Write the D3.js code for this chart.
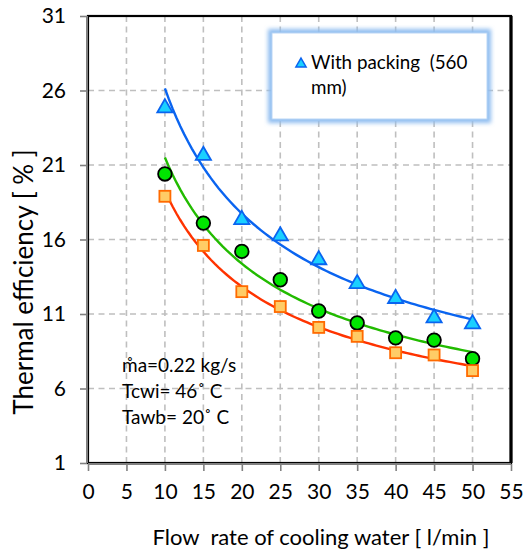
<!DOCTYPE html>
<html>
<head>
<meta charset="utf-8">
<script src="https://cdn.jsdelivr.net/npm/d3@7"></script>
<style>
  html, body { margin: 0; padding: 0; background: #fff; }
  svg { display: block; font-family: Lato, "Open Sans", sans-serif; }
  svg text { white-space: pre; }
</style>
</head>
<body>
<svg id="chart" width="529" height="554"></svg>
<script>
// Flow rate of cooling water [l/min]
const flowRates = [10, 15, 20, 25, 30, 35, 40, 45, 50];
// Thermal efficiency [%] for each configuration
const withPacking560 = [24.9, 21.7, 17.4, 16.3, 14.7, 13.1, 12.1, 10.8, 10.4];
const seriesCircle   = [20.4, 17.1, 15.2, 13.3, 11.2, 10.4, 9.4, 9.25, 8.0];
const seriesSquare   = [18.9, 15.6, 12.5, 11.5, 10.1, 9.5, 8.4, 8.25, 7.2];

const xTicks = [0, 5, 10, 15, 20, 25, 30, 35, 40, 45, 50, 55];
const yTicks = [1, 6, 11, 16, 21, 26, 31];

const conditionLines = ["m\u030Aa=0.22 kg/s", "Tcwi= 46\u02DA C", "Tawb= 20\u02DA C"];
const legendLines = ["With packing  (560", "mm)"];

const svg = d3.select("#chart");
const plotL = 88, plotR = 511, plotT = 16, plotB = 463;

const x = d3.scaleLinear().domain([0, 55]).range([plotL, plotR]);
const y = d3.scaleLinear().domain([1, 31]).range([plotB, plotT]);

// Gridlines (dashed)
const grid = svg.append("g");
grid.selectAll("line.v").data(xTicks.filter(t => t > 0 && t < 55)).join("line")
  .attr("class", "v")
  .attr("x1", d => x(d)).attr("x2", d => x(d))
  .attr("y1", plotT).attr("y2", plotB)
  .attr("stroke", "#bfbfbf").attr("stroke-width", 1.6).attr("stroke-dasharray", "6,4.5");
grid.selectAll("line.h").data(yTicks.filter(t => t > 1 && t < 31)).join("line")
  .attr("class", "h")
  .attr("x1", plotL).attr("x2", plotR)
  .attr("y1", d => y(d)).attr("y2", d => y(d))
  .attr("stroke", "#bfbfbf").attr("stroke-width", 1.6).attr("stroke-dasharray", "6,4.5");

// Power-law trendlines (least squares in log-log space)
function powerFit(xs, ys) {
  const lx = xs.map(Math.log), ly = ys.map(Math.log);
  const mx = d3.mean(lx), my = d3.mean(ly);
  const b = d3.sum(lx, (v, i) => (v - mx) * (ly[i] - my)) / d3.sum(lx, v => (v - mx) ** 2);
  const a = Math.exp(my - b * mx);
  return t => a * Math.pow(t, b);
}

const curveXs = d3.range(10, 50.01, 0.5);
const line = d3.line().x(d => x(d[0])).y(d => y(d[1]));

const series = [
  { values: seriesSquare, color: "#ff3300" },
  { values: seriesCircle, color: "#22bb00" },
  { values: withPacking560, color: "#0a64f0" }
];

series.forEach(s => {
  const f = powerFit(flowRates, s.values);
  svg.append("path")
    .attr("d", line(curveXs.map(t => [t, f(t)])))
    .attr("fill", "none").attr("stroke", s.color).attr("stroke-width", 2.4);
});

// Markers
const tri = d3.symbol().type(d3.symbolTriangle).size(100);
svg.append("g").selectAll("path").data(withPacking560).join("path")
  .attr("d", tri)
  .attr("transform", (d, i) => `translate(${x(flowRates[i])},${y(d) + 1})`)
  .attr("fill", "#1ad0ff").attr("stroke", "#0a64f0").attr("stroke-width", 1.8);

svg.append("g").selectAll("circle").data(seriesCircle).join("circle")
  .attr("cx", (d, i) => x(flowRates[i])).attr("cy", d => y(d))
  .attr("r", 6.8)
  .attr("fill", "#00e600").attr("stroke", "#000").attr("stroke-width", 1.8);

svg.append("g").selectAll("rect").data(seriesSquare).join("rect")
  .attr("x", (d, i) => x(flowRates[i]) - 5.5).attr("y", d => y(d) - 5.5)
  .attr("width", 11).attr("height", 11)
  .attr("fill", "#ffcc66").attr("stroke", "#ff6a00").attr("stroke-width", 1.8);

// Plot frame
svg.append("rect")
  .attr("x", plotL).attr("y", plotT).attr("width", plotR - plotL).attr("height", plotB - plotT)
  .attr("fill", "none").attr("stroke", "#000").attr("stroke-width", 2.2);
svg.append("line").attr("x1", plotR).attr("x2", plotR).attr("y1", plotT).attr("y2", plotB)
  .attr("stroke", "#000").attr("stroke-width", 3.2);

// Axes
const xAxis = svg.append("g").attr("transform", `translate(0,${plotB + 1})`)
  .call(d3.axisBottom(x).tickValues(xTicks).tickSize(7).tickPadding(13));
const yAxis = svg.append("g").attr("transform", `translate(${plotL - 1},0)`)
  .call(d3.axisLeft(y).tickValues(yTicks).tickSize(7).tickPadding(14));
[xAxis, yAxis].forEach(g => {
  g.select(".domain").attr("stroke", "#808080").attr("stroke-width", 2);
  g.selectAll(".tick line").attr("stroke", "#808080").attr("stroke-width", 1.6);
  g.selectAll(".tick text").attr("fill", "#000").style("font-size", "21px")
    .style("font-family", "Lato, sans-serif");
});
xAxis.select(".domain").attr("d", `M${plotL},0H${plotR}`);
yAxis.select(".domain").attr("d", `M0,${plotT}V${plotB}`);

// Axis titles
svg.append("text")
  .attr("x", 321).attr("y", 545)
  .attr("text-anchor", "middle").style("font-size", "22px")
  .text("Flow  rate of cooling water [ l/min ]");
svg.append("text")
  .attr("transform", "translate(33,282) rotate(-90)")
  .attr("text-anchor", "middle").style("font-size", "26px")
  .text("Thermal efficiency [ % ]");

// Operating conditions
svg.append("g").selectAll("text").data(conditionLines).join("text")
  .attr("x", 122).attr("y", (d, i) => 372 + i * 26)
  .style("font-size", "19px")
  .text(d => d);

// Legend box with soft blue edge
const defs = svg.append("defs");
defs.append("filter").attr("id", "glow").attr("x", "-10%").attr("y", "-20%")
  .attr("width", "120%").attr("height", "140%")
  .append("feGaussianBlur").attr("stdDeviation", 2.2);
const lg = { x: 272, y: 33, w: 215, h: 86 };
svg.append("rect")
  .attr("x", lg.x).attr("y", lg.y).attr("width", lg.w).attr("height", lg.h)
  .attr("fill", "none").attr("stroke", "#8fbdf0").attr("stroke-width", 8)
  .attr("filter", "url(#glow)");
svg.append("rect")
  .attr("x", lg.x).attr("y", lg.y).attr("width", lg.w).attr("height", lg.h)
  .attr("fill", "#fff").attr("stroke", "#b9d6f6").attr("stroke-width", 1);
svg.append("path")
  .attr("d", d3.symbol().type(d3.symbolTriangle).size(45))
  .attr("transform", "translate(301,64)")
  .attr("fill", "#1ad0ff").attr("stroke", "#0a64f0").attr("stroke-width", 1.5);
svg.append("g").selectAll("text").data(legendLines).join("text")
  .attr("x", 311).attr("y", (d, i) => 69 + i * 25)
  .style("font-size", "18.8px")
  .text(d => d);
</script>
</body>
</html>
